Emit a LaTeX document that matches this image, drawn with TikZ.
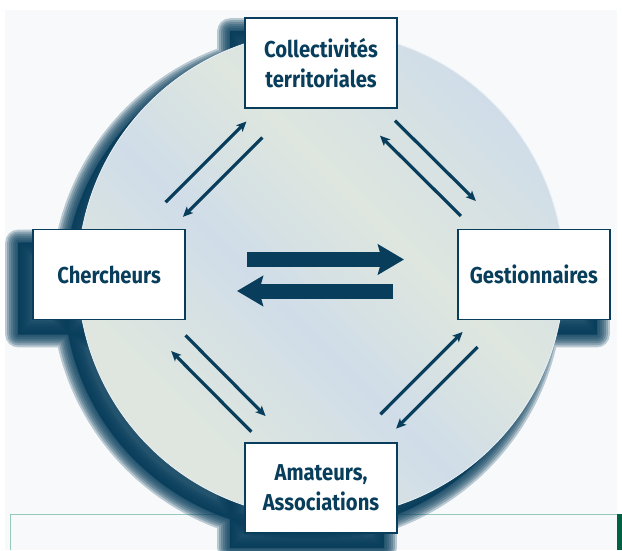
\documentclass[tikz,border=0pt]{standalone}
\usepackage{fontspec}
\setmainfont{Fira Sans}[FakeStretch=0.88]
\usetikzlibrary{positioning,arrows.meta}

\definecolor{navy}{RGB}{8,62,92}
\definecolor{paper}{RGB}{247,249,251}
\definecolor{discblue}{RGB}{208,221,232}
\definecolor{discgreen}{RGB}{222,230,223}
\definecolor{rimteal}{RGB}{150,200,190}
\definecolor{bargreen}{RGB}{0,96,66}

\pgfdeclarelayer{back}
\pgfsetlayers{back,main}
\pgfdeclarehorizontalshading{discshade}{100bp}{color(0bp)=(discgreen); color(30bp)=(discgreen); color(45bp)=(discblue); color(58bp)=(discgreen); color(75bp)=(discblue); color(100bp)=(discblue)}

\begin{document}
\begin{tikzpicture}[x=1pt, y=-1pt,
    actor/.style={draw=navy, line width=1.8pt, fill=white, text=navy,
        minimum width=152pt, minimum height=90pt, align=center,
        font=\bfseries\fontsize{23}{30}\selectfont},
    flow/.style={draw=navy, line width=3.2pt,
        -{Stealth[length=10pt, width=9pt, inset=2.5pt]}},
    bigflow/.style={draw=navy, line width=15pt,
        -{Stealth[length=26pt, width=30pt, inset=4pt]}}]
	\useasboundingbox (0,0) rectangle (622,550);
	\coordinate (mid) at (321,274.5);
	% Draw the four partners
	\node[actor, above=165.5pt of mid] (coll)   {Collectivités\\territoriales};
	\node[actor, left=135pt of mid]    (cherch) {Chercheurs};
	\node[actor, right=136pt of mid]   (gest)   {Gestionnaires};
	\node[actor, below=167.5pt of mid] (amat)   {Amateurs,\\Associations};
	% Paper, disc, its shadow and the frame below
	\begin{pgfonlayer}{back}
		\fill[paper] (5,10) rectangle (617,550);
		\draw[rimteal, line width=1pt] (10,550) -- (10,514) -- (617,514);
		\fill[bargreen] (617,514) rectangle (622,550);
		\begin{scope}[transform canvas={shift={(-14,14)}}]
			\foreach \w in {26,22,18,14,10,6,2}
				\path[fill=navy, draw=navy, opacity=0.26, line width=\w pt, line join=round]
					(mid) circle [radius=243pt]
					(coll.north west) rectangle (coll.south east)
					(cherch.north west) rectangle (cherch.south east)
					(gest.north west) rectangle (gest.south east)
					(amat.north west) rectangle (amat.south east);
		\end{scope}
		\path[shading=discshade, shading angle=45, draw=white!55!discblue, line width=0.8pt]
			(mid) circle [radius=243pt];
	\end{pgfonlayer}
	% Connect the partners with arrows
	\draw[flow, shorten <=91pt, shorten >=94pt, transform canvas={shift={(-8,-8)}}] (cherch.center) -- (coll.center);
	\draw[flow, shorten <=94pt, shorten >=93pt, transform canvas={shift={(8,8)}}]   (coll.center) -- (cherch.center);
	\draw[flow, shorten <=93pt, shorten >=93pt, transform canvas={shift={(8,-8)}}]  (coll.center) -- (gest.center);
	\draw[flow, shorten <=93pt, shorten >=93pt, transform canvas={shift={(-7,7)}}]  (gest.center) -- (coll.center);
	\draw[flow, shorten <=97pt, shorten >=90pt, transform canvas={shift={(8,-8)}}]  (cherch.center) -- (amat.center);
	\draw[flow, shorten <=89pt, shorten >=98pt, transform canvas={shift={(-7,7)}}]  (amat.center) -- (cherch.center);
	\draw[flow, shorten <=94pt, shorten >=91pt, transform canvas={shift={(-7,-7)}}] (amat.center) -- (gest.center);
	\draw[flow, shorten <=91pt, shorten >=95pt, transform canvas={shift={(8,8)}}]   (gest.center) -- (amat.center);
	\draw[bigflow, shorten <=61pt, shorten >=53pt, transform canvas={yshift=15pt}]   (cherch.east) -- (gest.west);
	\draw[bigflow, shorten <=64pt, shorten >=51pt, transform canvas={yshift=-16.5pt}] (gest.west) -- (cherch.east);
\end{tikzpicture}
\end{document}
